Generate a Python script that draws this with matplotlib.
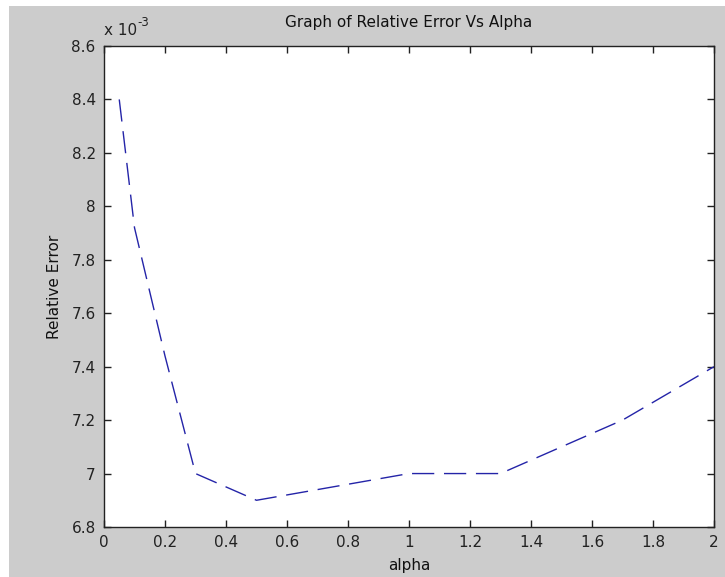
import matplotlib
matplotlib.use('Agg')
import matplotlib.pyplot as plt
from matplotlib.patches import Rectangle
from matplotlib.ticker import FuncFormatter, MultipleLocator

# values
alpha = [0.05, 0.1, 0.2, 0.3, 0.4, 0.5, 1.0, 1.3, 1.5, 1.7, 2.0]
rel_error = [8.4e-3, 7.92e-3, 7.44e-3, 7.0e-3, 6.95e-3, 6.9e-3, 7.0e-3, 7.0e-3, 7.1e-3, 7.2e-3, 7.4e-3]

plt.rcParams['font.family'] = ['DejaVu Sans']
plt.rcParams['font.size'] = 11
plt.rcParams['lines.scale_dashes'] = False


def make_plot():
    fig = plt.figure(figsize=(7.25, 5.77), dpi=100, facecolor='white')
    # grey MATLAB-style figure area (thin white band at top/left of the screenshot)
    fig.patches.append(Rectangle((9 / 725, 0), 1, 1 - 6 / 577, transform=fig.transFigure,
                                 facecolor='#cccccc', edgecolor='none', zorder=-10))
    ax = fig.add_axes([104 / 725, 1 - 527 / 577, 610 / 725, 481 / 577])
    ax.set_facecolor('white')

    ax.plot(alpha, rel_error, color='#2424a8', linewidth=1.0, dashes=(16, 7))

    ax.set_xlim(0, 2)
    ax.set_ylim(6.8e-3, 8.6e-3)
    ax.xaxis.set_major_locator(MultipleLocator(0.2))
    ax.yaxis.set_major_locator(MultipleLocator(0.2e-3))
    ax.xaxis.set_major_formatter(FuncFormatter(lambda v, p: '%g' % round(v, 6)))
    ax.yaxis.set_major_formatter(FuncFormatter(lambda v, p: '%g' % round(v * 1e3, 6)))

    ax.tick_params(direction='in', length=5, width=1, top=True, right=True,
                   labelsize=11, colors='#222222', pad=6)
    for s in ax.spines.values():
        s.set_linewidth(1)
        s.set_color('#222222')

    # MATLAB-style exponent label above the y axis
    ax.text(0.0, 1.016, 'x 10', transform=ax.transAxes, fontsize=11,
            ha='left', va='bottom', color='#222222')
    ax.text(0.054, 1.036, '-3', transform=ax.transAxes, fontsize=8.5,
            ha='left', va='bottom', color='#222222')
    ax.set_title('Graph of Relative Error Vs Alpha', fontsize=11, pad=14, color='#111111')
    ax.set_xlabel('alpha', fontsize=11, color='#111111')
    ax.set_ylabel('Relative Error', fontsize=11, color='#111111')
    ax.xaxis.set_label_coords(0.5, -0.064)
    ax.yaxis.set_label_coords(-0.069, 0.5)

    fig.savefig('out.png', dpi=100, facecolor=fig.get_facecolor())


if __name__ == '__main__':
    make_plot()
